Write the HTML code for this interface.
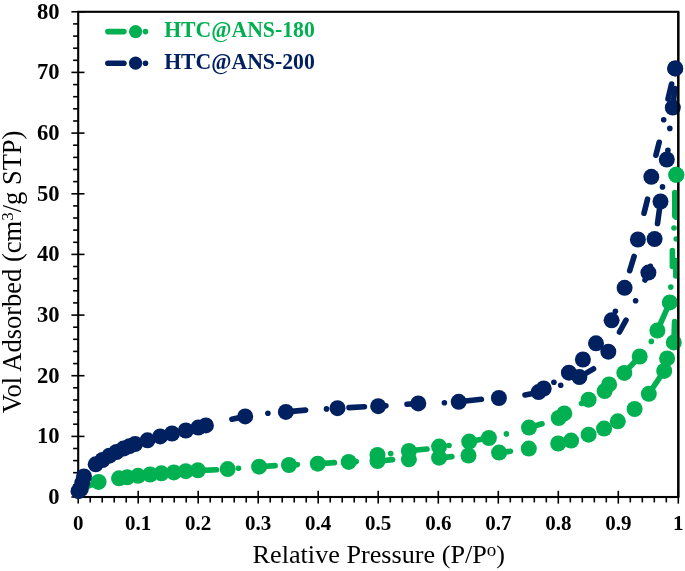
<!DOCTYPE html>
<html><head><meta charset="utf-8"><title>Isotherm</title>
<style>html,body{margin:0;padding:0;background:#fff}svg{display:block;will-change:transform;opacity:0.9999}text{font-family:"Liberation Serif",serif;fill:#000}</style>
</head><body>
<svg width="685" height="571" viewBox="0 0 685 571">
<rect width="685" height="571" fill="#fff"/>
<defs><clipPath id="pc"><rect x="78.2" y="11.8" width="600.4" height="485.2"/></clipPath></defs>
<rect x="78.2" y="11.8" width="600.1" height="485.2" fill="none" stroke="#000" stroke-width="2.1"/>
<g stroke="#000" stroke-width="1.6">
<line x1="78.2" y1="490.8" x2="78.2" y2="503.6"/>
<line x1="90.2" y1="497.0" x2="90.2" y2="502.4"/>
<line x1="102.2" y1="497.0" x2="102.2" y2="502.4"/>
<line x1="114.2" y1="497.0" x2="114.2" y2="502.4"/>
<line x1="126.2" y1="497.0" x2="126.2" y2="502.4"/>
<line x1="138.2" y1="490.8" x2="138.2" y2="503.6"/>
<line x1="150.2" y1="497.0" x2="150.2" y2="502.4"/>
<line x1="162.2" y1="497.0" x2="162.2" y2="502.4"/>
<line x1="174.2" y1="497.0" x2="174.2" y2="502.4"/>
<line x1="186.2" y1="497.0" x2="186.2" y2="502.4"/>
<line x1="198.2" y1="490.8" x2="198.2" y2="503.6"/>
<line x1="210.2" y1="497.0" x2="210.2" y2="502.4"/>
<line x1="222.2" y1="497.0" x2="222.2" y2="502.4"/>
<line x1="234.2" y1="497.0" x2="234.2" y2="502.4"/>
<line x1="246.2" y1="497.0" x2="246.2" y2="502.4"/>
<line x1="258.2" y1="490.8" x2="258.2" y2="503.6"/>
<line x1="270.2" y1="497.0" x2="270.2" y2="502.4"/>
<line x1="282.2" y1="497.0" x2="282.2" y2="502.4"/>
<line x1="294.2" y1="497.0" x2="294.2" y2="502.4"/>
<line x1="306.2" y1="497.0" x2="306.2" y2="502.4"/>
<line x1="318.2" y1="490.8" x2="318.2" y2="503.6"/>
<line x1="330.2" y1="497.0" x2="330.2" y2="502.4"/>
<line x1="342.2" y1="497.0" x2="342.2" y2="502.4"/>
<line x1="354.2" y1="497.0" x2="354.2" y2="502.4"/>
<line x1="366.2" y1="497.0" x2="366.2" y2="502.4"/>
<line x1="378.2" y1="490.8" x2="378.2" y2="503.6"/>
<line x1="390.3" y1="497.0" x2="390.3" y2="502.4"/>
<line x1="402.3" y1="497.0" x2="402.3" y2="502.4"/>
<line x1="414.3" y1="497.0" x2="414.3" y2="502.4"/>
<line x1="426.3" y1="497.0" x2="426.3" y2="502.4"/>
<line x1="438.3" y1="490.8" x2="438.3" y2="503.6"/>
<line x1="450.3" y1="497.0" x2="450.3" y2="502.4"/>
<line x1="462.3" y1="497.0" x2="462.3" y2="502.4"/>
<line x1="474.3" y1="497.0" x2="474.3" y2="502.4"/>
<line x1="486.3" y1="497.0" x2="486.3" y2="502.4"/>
<line x1="498.3" y1="490.8" x2="498.3" y2="503.6"/>
<line x1="510.3" y1="497.0" x2="510.3" y2="502.4"/>
<line x1="522.3" y1="497.0" x2="522.3" y2="502.4"/>
<line x1="534.3" y1="497.0" x2="534.3" y2="502.4"/>
<line x1="546.3" y1="497.0" x2="546.3" y2="502.4"/>
<line x1="558.3" y1="490.8" x2="558.3" y2="503.6"/>
<line x1="570.3" y1="497.0" x2="570.3" y2="502.4"/>
<line x1="582.3" y1="497.0" x2="582.3" y2="502.4"/>
<line x1="594.3" y1="497.0" x2="594.3" y2="502.4"/>
<line x1="606.3" y1="497.0" x2="606.3" y2="502.4"/>
<line x1="618.3" y1="490.8" x2="618.3" y2="503.6"/>
<line x1="630.3" y1="497.0" x2="630.3" y2="502.4"/>
<line x1="642.3" y1="497.0" x2="642.3" y2="502.4"/>
<line x1="654.3" y1="497.0" x2="654.3" y2="502.4"/>
<line x1="666.3" y1="497.0" x2="666.3" y2="502.4"/>
<line x1="678.3" y1="490.8" x2="678.3" y2="503.6"/>
<line x1="71.4" y1="497.0" x2="84.5" y2="497.0"/>
<line x1="73.10000000000001" y1="484.9" x2="78.2" y2="484.9"/>
<line x1="73.10000000000001" y1="472.7" x2="78.2" y2="472.7"/>
<line x1="73.10000000000001" y1="460.6" x2="78.2" y2="460.6"/>
<line x1="73.10000000000001" y1="448.5" x2="78.2" y2="448.5"/>
<line x1="71.4" y1="436.4" x2="84.5" y2="436.4"/>
<line x1="73.10000000000001" y1="424.2" x2="78.2" y2="424.2"/>
<line x1="73.10000000000001" y1="412.1" x2="78.2" y2="412.1"/>
<line x1="73.10000000000001" y1="400.0" x2="78.2" y2="400.0"/>
<line x1="73.10000000000001" y1="387.8" x2="78.2" y2="387.8"/>
<line x1="71.4" y1="375.7" x2="84.5" y2="375.7"/>
<line x1="73.10000000000001" y1="363.6" x2="78.2" y2="363.6"/>
<line x1="73.10000000000001" y1="351.4" x2="78.2" y2="351.4"/>
<line x1="73.10000000000001" y1="339.3" x2="78.2" y2="339.3"/>
<line x1="73.10000000000001" y1="327.2" x2="78.2" y2="327.2"/>
<line x1="71.4" y1="315.1" x2="84.5" y2="315.1"/>
<line x1="73.10000000000001" y1="302.9" x2="78.2" y2="302.9"/>
<line x1="73.10000000000001" y1="290.8" x2="78.2" y2="290.8"/>
<line x1="73.10000000000001" y1="278.7" x2="78.2" y2="278.7"/>
<line x1="73.10000000000001" y1="266.5" x2="78.2" y2="266.5"/>
<line x1="71.4" y1="254.4" x2="84.5" y2="254.4"/>
<line x1="73.10000000000001" y1="242.3" x2="78.2" y2="242.3"/>
<line x1="73.10000000000001" y1="230.1" x2="78.2" y2="230.1"/>
<line x1="73.10000000000001" y1="218.0" x2="78.2" y2="218.0"/>
<line x1="73.10000000000001" y1="205.9" x2="78.2" y2="205.9"/>
<line x1="71.4" y1="193.8" x2="84.5" y2="193.8"/>
<line x1="73.10000000000001" y1="181.6" x2="78.2" y2="181.6"/>
<line x1="73.10000000000001" y1="169.5" x2="78.2" y2="169.5"/>
<line x1="73.10000000000001" y1="157.4" x2="78.2" y2="157.4"/>
<line x1="73.10000000000001" y1="145.2" x2="78.2" y2="145.2"/>
<line x1="71.4" y1="133.1" x2="84.5" y2="133.1"/>
<line x1="73.10000000000001" y1="121.0" x2="78.2" y2="121.0"/>
<line x1="73.10000000000001" y1="108.8" x2="78.2" y2="108.8"/>
<line x1="73.10000000000001" y1="96.7" x2="78.2" y2="96.7"/>
<line x1="73.10000000000001" y1="84.6" x2="78.2" y2="84.6"/>
<line x1="71.4" y1="72.4" x2="84.5" y2="72.4"/>
<line x1="73.10000000000001" y1="60.3" x2="78.2" y2="60.3"/>
<line x1="73.10000000000001" y1="48.2" x2="78.2" y2="48.2"/>
<line x1="73.10000000000001" y1="36.1" x2="78.2" y2="36.1"/>
<line x1="73.10000000000001" y1="23.9" x2="78.2" y2="23.9"/>
<line x1="71.4" y1="11.8" x2="84.5" y2="11.8"/>
</g>
<g stroke="#00b050" stroke-width="5.6" stroke-linecap="round" fill="none" clip-path="url(#pc)">
<line x1="84" y1="488" x2="98.6" y2="481.9"/>
<line x1="197.9" y1="470.6" x2="216.5" y2="469.7"/>
<line x1="259.1" y1="466.7" x2="275.1" y2="465.6"/>
<line x1="317.8" y1="463.7" x2="334.4" y2="462.6"/>
<line x1="377.5" y1="461.2" x2="392.6" y2="459.6"/>
<line x1="408.9" y1="450.8" x2="427" y2="449"/>
<line x1="439.1" y1="458.0" x2="451.9" y2="456.6"/>
<line x1="469.2" y1="441.6" x2="488.9" y2="438"/>
<line x1="499.1" y1="452.6" x2="510.4" y2="451.3"/>
<line x1="529" y1="427.6" x2="542" y2="423.8"/>
<line x1="588.6" y1="399.7" x2="581.5" y2="403.4"/>
<line x1="624.3" y1="372.9" x2="639.7" y2="356.5"/>
<line x1="657.4" y1="330.5" x2="669.8" y2="302.4"/>
<line x1="648.8" y1="393.8" x2="664.2" y2="370.9"/>
<line x1="673.8" y1="342.4" x2="674.6" y2="321.5"/>
<line x1="672.4" y1="250.5" x2="672.4" y2="266.5"/>
<line x1="675.8" y1="260.5" x2="675.8" y2="276"/>
<line x1="674.8" y1="192.5" x2="674.8" y2="216"/>
<line x1="676.2" y1="194" x2="676.2" y2="217.3"/>
</g>
<g fill="#00b050">
<circle cx="238.5" cy="468.3" r="2.80"/>
<circle cx="297.3" cy="464.6" r="2.80"/>
<circle cx="356.2" cy="461.6" r="2.80"/>
<circle cx="390.7" cy="453.6" r="2.80"/>
<circle cx="449" cy="445.5" r="2.80"/>
<circle cx="506.4" cy="433.9" r="2.80"/>
<circle cx="651.3" cy="341.4" r="2.80"/>
<circle cx="670.8" cy="287.1" r="2.80"/>
<circle cx="674" cy="228" r="2.80"/>
<circle cx="676.2" cy="239" r="2.80"/>
<circle cx="98.6" cy="481.9" r="8.0"/>
<circle cx="119" cy="478.3" r="8.0"/>
<circle cx="127.2" cy="477.3" r="8.0"/>
<circle cx="138" cy="475.8" r="8.0"/>
<circle cx="150.1" cy="474.5" r="8.0"/>
<circle cx="161.4" cy="473.3" r="8.0"/>
<circle cx="173.8" cy="472.4" r="8.0"/>
<circle cx="185.8" cy="471.2" r="8.0"/>
<circle cx="197.9" cy="470.3" r="8.0"/>
<circle cx="227.7" cy="469.1" r="8.0"/>
<circle cx="259.1" cy="466.7" r="8.0"/>
<circle cx="289" cy="465" r="8.0"/>
<circle cx="317.8" cy="463.7" r="8.0"/>
<circle cx="348.7" cy="461.9" r="8.0"/>
<circle cx="377.5" cy="461.0" r="8.0"/>
<circle cx="408.9" cy="459.3" r="8.0"/>
<circle cx="439.1" cy="457.7" r="8.0"/>
<circle cx="468.5" cy="455.5" r="8.0"/>
<circle cx="499.1" cy="452.6" r="8.0"/>
<circle cx="528.8" cy="448.6" r="8.0"/>
<circle cx="558.2" cy="443.5" r="8.0"/>
<circle cx="571.1" cy="440.6" r="8.0"/>
<circle cx="588.6" cy="434.7" r="8.0"/>
<circle cx="604.1" cy="428.6" r="8.0"/>
<circle cx="617.8" cy="421.3" r="8.0"/>
<circle cx="634.6" cy="409" r="8.0"/>
<circle cx="648.8" cy="393.8" r="8.0"/>
<circle cx="664.2" cy="370.9" r="8.0"/>
<circle cx="667.1" cy="358.4" r="8.0"/>
<circle cx="673.8" cy="342.4" r="8.0"/>
<circle cx="676.3" cy="174.8" r="8.0"/>
<circle cx="377.5" cy="454.9" r="8.0"/>
<circle cx="408.9" cy="450.9" r="8.0"/>
<circle cx="439.1" cy="446.6" r="8.0"/>
<circle cx="469.2" cy="441.6" r="8.0"/>
<circle cx="488.9" cy="438" r="8.0"/>
<circle cx="529" cy="427.6" r="8.0"/>
<circle cx="558.7" cy="418" r="8.0"/>
<circle cx="564.3" cy="413.4" r="8.0"/>
<circle cx="588.6" cy="399.7" r="8.0"/>
<circle cx="604.6" cy="391.1" r="8.0"/>
<circle cx="609.1" cy="384.4" r="8.0"/>
<circle cx="624.3" cy="372.9" r="8.0"/>
<circle cx="639.7" cy="356.5" r="8.0"/>
<circle cx="657.4" cy="330.5" r="8.0"/>
<circle cx="669.8" cy="302.4" r="8.0"/>
</g>
<g stroke="#002060" stroke-width="5.6" stroke-linecap="round" fill="none" clip-path="url(#pc)">
<line x1="231.9" y1="419.2" x2="245.6" y2="416.2"/>
<line x1="285.9" y1="411.9" x2="305.6" y2="410.1"/>
<line x1="349" y1="407.6" x2="364.4" y2="406.7"/>
<line x1="407.0" y1="404.2" x2="418.3" y2="403.4"/>
<line x1="458.7" y1="401.8" x2="481.4" y2="399.3"/>
<line x1="525.0" y1="395.0" x2="538" y2="392.5"/>
<line x1="579.4" y1="377.1" x2="593.5" y2="368.8"/>
<line x1="619.5" y1="332" x2="626" y2="320.2"/>
<line x1="634.1" y1="256.4" x2="629.7" y2="270.7"/>
<line x1="648.4" y1="272.6" x2="645" y2="280"/>
<line x1="648.4" y1="272.6" x2="650.3" y2="266.3"/>
<line x1="660.5" y1="201.5" x2="657.5" y2="223.6"/>
<line x1="647.5" y1="199.2" x2="644" y2="213.2"/>
<line x1="659.2" y1="142.3" x2="655.9" y2="155.2"/>
<line x1="671.6" y1="84" x2="668" y2="99"/>
<line x1="674.8" y1="88.5" x2="673.5" y2="102"/>
</g>
<g fill="#002060">
<circle cx="267.9" cy="413.2" r="2.80"/>
<circle cx="326.5" cy="408.9" r="2.80"/>
<circle cx="385.9" cy="405.7" r="2.80"/>
<circle cx="444.4" cy="402.7" r="2.80"/>
<circle cx="553.9" cy="382.2" r="2.80"/>
<circle cx="560.7" cy="385.3" r="2.80"/>
<circle cx="615.4" cy="311.3" r="2.80"/>
<circle cx="635.6" cy="300.7" r="2.80"/>
<circle cx="662.5" cy="186.9" r="2.80"/>
<circle cx="667.9" cy="150.4" r="2.80"/>
<circle cx="663.7" cy="119.8" r="2.80"/>
<circle cx="669.8" cy="128.4" r="2.80"/>
<circle cx="78.5" cy="491.2" r="8.0"/>
<circle cx="80.8" cy="489" r="8.0"/>
<circle cx="82.2" cy="483" r="8.0"/>
<circle cx="84" cy="476.5" r="8.0"/>
<circle cx="95.7" cy="464.3" r="8.0"/>
<circle cx="102.5" cy="460" r="8.0"/>
<circle cx="109.4" cy="455.7" r="8.0"/>
<circle cx="116.5" cy="452" r="8.0"/>
<circle cx="123.5" cy="448.6" r="8.0"/>
<circle cx="129.5" cy="446.2" r="8.0"/>
<circle cx="135.1" cy="444" r="8.0"/>
<circle cx="147.5" cy="440.3" r="8.0"/>
<circle cx="160.2" cy="436.4" r="8.0"/>
<circle cx="172" cy="433.5" r="8.0"/>
<circle cx="185.8" cy="430.5" r="8.0"/>
<circle cx="198.3" cy="427.6" r="8.0"/>
<circle cx="205.9" cy="425.4" r="8.0"/>
<circle cx="245.2" cy="416.4" r="8.0"/>
<circle cx="285.9" cy="411.9" r="8.0"/>
<circle cx="337.5" cy="408.2" r="8.0"/>
<circle cx="378.2" cy="406.2" r="8.0"/>
<circle cx="418.3" cy="403.4" r="8.0"/>
<circle cx="458.7" cy="401.8" r="8.0"/>
<circle cx="498.9" cy="398.0" r="8.0"/>
<circle cx="538.6" cy="392.1" r="8.0"/>
<circle cx="543.7" cy="388.5" r="8.0"/>
<circle cx="568.9" cy="372.7" r="8.0"/>
<circle cx="579.4" cy="377.1" r="8.0"/>
<circle cx="582.9" cy="359.5" r="8.0"/>
<circle cx="596" cy="343.3" r="8.0"/>
<circle cx="608.3" cy="351.7" r="8.0"/>
<circle cx="611.6" cy="320.3" r="8.0"/>
<circle cx="624.6" cy="287.8" r="8.0"/>
<circle cx="637.9" cy="239.5" r="8.0"/>
<circle cx="648.4" cy="272.6" r="8.0"/>
<circle cx="651.3" cy="176.8" r="8.0"/>
<circle cx="654.6" cy="239" r="8.0"/>
<circle cx="660.5" cy="201.5" r="8.0"/>
<circle cx="666.8" cy="159.5" r="8.0"/>
<circle cx="672.8" cy="107.6" r="8.0"/>
<circle cx="675.2" cy="68.4" r="8.0"/>
</g>
<line x1="678.3" y1="11.8" x2="678.3" y2="497.0" stroke="#000" stroke-width="2.1"/>
<circle cx="676.3" cy="174.8" r="8.0" fill="#00b050"/>
<circle cx="675.2" cy="68.4" r="8.0" fill="#002060"/>
<g font-size="21" font-weight="bold">
<text x="59.6" y="504.0" text-anchor="end" font-size="22.6">0</text>
<text x="59.6" y="443.4" text-anchor="end" font-size="22.6">10</text>
<text x="59.6" y="382.7" text-anchor="end" font-size="22.6">20</text>
<text x="59.6" y="322.1" text-anchor="end" font-size="22.6">30</text>
<text x="59.6" y="261.4" text-anchor="end" font-size="22.6">40</text>
<text x="59.6" y="200.8" text-anchor="end" font-size="22.6">50</text>
<text x="59.6" y="140.1" text-anchor="end" font-size="22.6">60</text>
<text x="59.6" y="79.4" text-anchor="end" font-size="22.6">70</text>
<text x="59.6" y="18.8" text-anchor="end" font-size="22.6">80</text>
<text x="78.2" y="530.2" text-anchor="middle">0</text>
<text x="138.2" y="530.2" text-anchor="middle">0.1</text>
<text x="198.2" y="530.2" text-anchor="middle">0.2</text>
<text x="258.2" y="530.2" text-anchor="middle">0.3</text>
<text x="318.2" y="530.2" text-anchor="middle">0.4</text>
<text x="378.2" y="530.2" text-anchor="middle">0.5</text>
<text x="438.3" y="530.2" text-anchor="middle">0.6</text>
<text x="498.3" y="530.2" text-anchor="middle">0.7</text>
<text x="558.3" y="530.2" text-anchor="middle">0.8</text>
<text x="618.3" y="530.2" text-anchor="middle">0.9</text>
<text x="678.3" y="530.2" text-anchor="middle">1</text>
</g>
<text x="252.6" y="562.8" font-size="26.2">Relative Pressure (P/P<tspan font-size="19" dy="-6.6">o</tspan><tspan dy="6.6">)</tspan></text>
<text transform="translate(21.4 413.2) rotate(-90)" font-size="26.5">Vol Adsorbed (cm<tspan font-size="17" dy="-8">3</tspan><tspan dy="8">/g STP)</tspan></text>
<g stroke="#00b050" stroke-width="5.6" stroke-linecap="round"><line x1="107.9" y1="31.6" x2="123.9" y2="31.6"/></g>
<circle cx="145.5" cy="31.6" r="2.80" fill="#00b050"/>
<circle cx="135.6" cy="31.6" r="6.6" fill="#00b050"/>
<text x="164.2" y="36.9" font-size="22.2" font-weight="bold" textLength="150.6" lengthAdjust="spacingAndGlyphs" style="fill:#00b050">HTC@ANS-180</text>
<g stroke="#002060" stroke-width="5.6" stroke-linecap="round"><line x1="107.9" y1="63.2" x2="123.9" y2="63.2"/></g>
<circle cx="145.5" cy="63.2" r="2.80" fill="#002060"/>
<circle cx="135.6" cy="63.2" r="6.6" fill="#002060"/>
<text x="164.2" y="68.5" font-size="22.2" font-weight="bold" textLength="150.6" lengthAdjust="spacingAndGlyphs" style="fill:#002060">HTC@ANS-200</text>
</svg>
</body></html>
